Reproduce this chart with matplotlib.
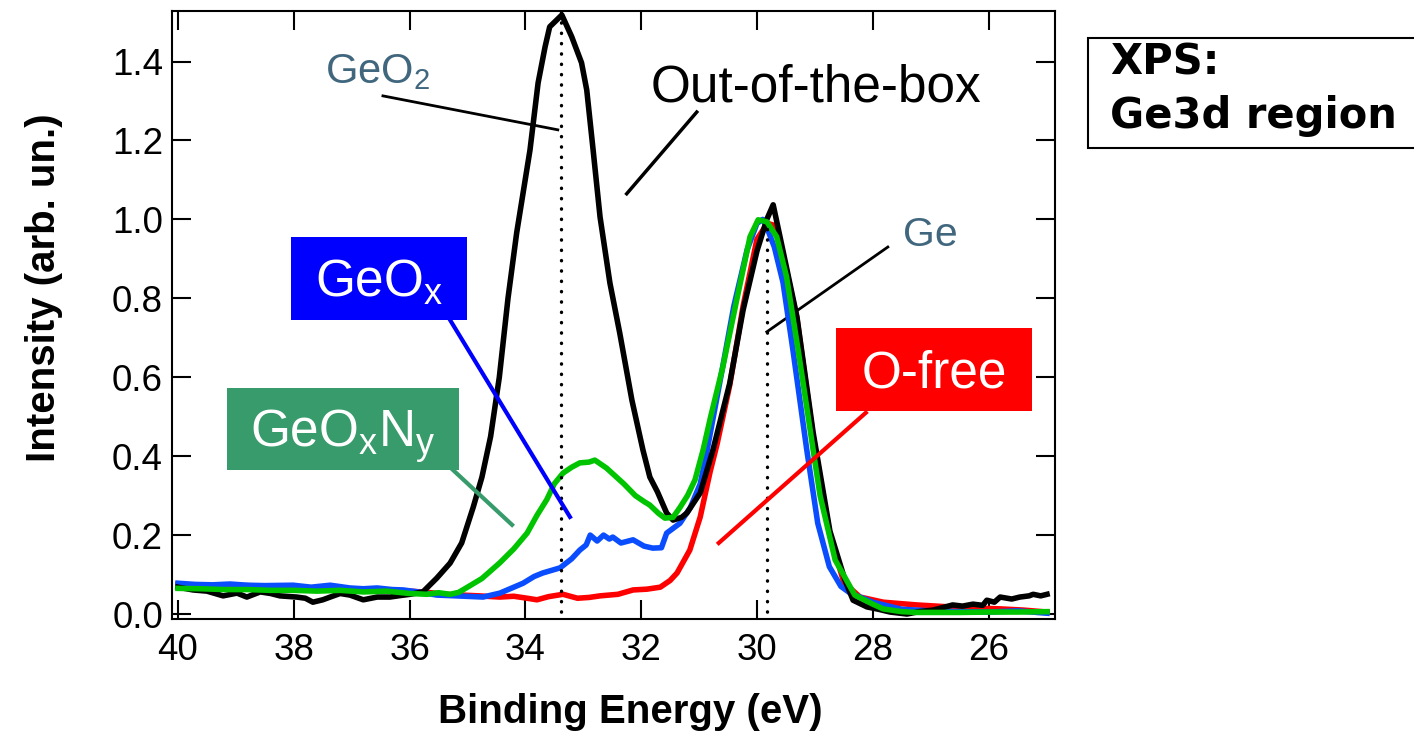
import matplotlib
matplotlib.use('Agg')
import matplotlib.pyplot as plt
from matplotlib.patches import Rectangle

plt.rcParams['font.family'] = ['Liberation Sans', 'DejaVu Sans']
plt.rcParams['mathtext.fontset'] = 'custom'
plt.rcParams['mathtext.rm'] = 'Liberation Sans'

# Ge3d spectra, binding energy (eV) vs normalised intensity
be_black = [40.0, 39.74, 39.5, 39.22, 38.98, 38.81, 38.58, 38.4, 38.24, 37.95, 37.8, 37.67,
            37.5, 37.37, 37.2, 37.03, 36.8, 36.56, 36.34, 36.15, 35.99, 35.77, 35.53, 35.3,
            35.1, 34.9, 34.75, 34.6, 34.45, 34.3, 34.15, 33.92, 33.78, 33.66, 33.58, 33.37,
            33.2, 33.03, 32.94, 32.83, 32.71, 32.54, 32.37, 32.16, 31.97, 31.85, 31.72, 31.56,
            31.45, 31.3, 31.21, 30.98, 30.76, 30.47, 30.24, 30.0, 29.83, 29.72, 29.55, 29.31,
            29.03, 28.74, 28.48, 28.34, 28.1, 27.9, 27.7, 27.41, 27.2, 26.96, 26.8, 26.62,
            26.45, 26.27, 26.1, 26.03, 25.9, 25.8, 25.6, 25.46, 25.3, 25.23, 25.1, 24.99]
int_black = [0.068, 0.061, 0.058, 0.046, 0.053, 0.043, 0.056, 0.052, 0.046, 0.043, 0.040, 0.030,
             0.036, 0.043, 0.052, 0.048, 0.036, 0.043, 0.043, 0.047, 0.050, 0.056, 0.091, 0.129,
             0.180, 0.271, 0.347, 0.45, 0.60, 0.80, 0.966, 1.176, 1.346, 1.437, 1.488, 1.518,
             1.463, 1.397, 1.328, 1.176, 1.006, 0.839, 0.712, 0.542, 0.416, 0.347, 0.31, 0.256,
             0.238, 0.245, 0.256, 0.307, 0.416, 0.585, 0.77, 0.92, 1.0, 1.037, 0.92, 0.753,
             0.46, 0.21, 0.086, 0.035, 0.018, 0.012, 0.005, 0.0, 0.006, 0.01, 0.016, 0.023,
             0.02, 0.025, 0.022, 0.035, 0.03, 0.043, 0.038, 0.043, 0.046, 0.05, 0.046, 0.05]

be_red = [40.0, 39.6, 39.2, 38.8, 38.4, 38.0, 37.6, 37.2, 36.8, 36.4, 36.0, 35.7, 35.4, 35.1,
          34.8, 34.44, 34.2, 33.97, 33.8, 33.6, 33.35, 33.1, 32.9, 32.71, 32.4, 32.14, 31.9,
          31.67, 31.5, 31.38, 31.16, 30.98, 30.81, 30.69, 30.47, 30.24, 30.0, 29.82, 29.7,
          29.55, 29.31, 29.03, 28.74, 28.5, 28.22, 27.82, 27.24, 26.67, 26.2, 25.8, 25.4, 24.99]
int_red = [0.075, 0.072, 0.07, 0.072, 0.068, 0.068, 0.066, 0.064, 0.062, 0.06, 0.058, 0.055,
           0.05, 0.048, 0.046, 0.043, 0.045, 0.04, 0.036, 0.044, 0.05, 0.04, 0.042, 0.046, 0.05,
           0.061, 0.063, 0.068, 0.085, 0.104, 0.162, 0.246, 0.36, 0.43, 0.58, 0.78, 0.95, 0.99,
           0.985, 0.91, 0.75, 0.45, 0.2, 0.08, 0.043, 0.03, 0.023, 0.018, 0.015, 0.013, 0.01, 0.005]

be_blue = [40.0, 39.7, 39.4, 39.1, 38.8, 38.5, 38.01, 37.7, 37.37, 37.03, 36.8, 36.56, 36.3,
           36.11, 35.8, 35.53, 35.2, 34.73, 34.44, 34.2, 34.04, 33.85, 33.7, 33.4, 33.2, 33.06,
           32.95, 32.88, 32.76, 32.65, 32.55, 32.49, 32.35, 32.14, 31.95, 31.8, 31.65, 31.56,
           31.33, 31.15, 30.98, 30.86, 30.6, 30.4, 30.17, 30.0, 29.9, 29.83, 29.7, 29.55, 29.38,
           29.14, 28.95, 28.75, 28.55, 28.39, 28.0, 27.5, 27.0, 26.5, 26.0, 25.5, 24.99]
int_blue = [0.078, 0.075, 0.074, 0.076, 0.073, 0.072, 0.073, 0.068, 0.073, 0.066, 0.064, 0.066,
            0.062, 0.061, 0.055, 0.048, 0.046, 0.043, 0.053, 0.068, 0.078, 0.095, 0.104, 0.117,
            0.14, 0.162, 0.175, 0.2, 0.185, 0.2, 0.19, 0.195, 0.18, 0.188, 0.172, 0.167, 0.168,
            0.205, 0.23, 0.27, 0.33, 0.416, 0.62, 0.78, 0.923, 0.99, 1.0, 0.98, 0.93, 0.84, 0.67,
            0.416, 0.23, 0.12, 0.07, 0.053, 0.03, 0.012, 0.008, 0.006, 0.005, 0.008, 0.002]

be_green = [40.0, 39.6, 39.2, 38.8, 38.4, 38.0, 37.6, 37.2, 36.8, 36.4, 36.0, 35.7, 35.5, 35.3,
            35.15, 35.0, 34.75, 34.44, 34.2, 33.97, 33.8, 33.63, 33.5, 33.35, 33.2, 33.06, 32.9,
            32.8, 32.6, 32.45, 32.3, 32.1, 31.95, 31.85, 31.7, 31.59, 31.45, 31.33, 31.2, 31.07,
            30.93, 30.8, 30.59, 30.35, 30.12, 29.98, 29.83, 29.66, 29.49, 29.29, 29.03, 28.91,
            28.65, 28.31, 28.0, 27.82, 27.5, 27.24, 26.5, 26.0, 25.5, 24.99]
int_green = [0.065, 0.064, 0.062, 0.062, 0.06, 0.06, 0.058, 0.06, 0.056, 0.058, 0.052, 0.05,
             0.054, 0.05, 0.055, 0.068, 0.09, 0.13, 0.165, 0.205, 0.25, 0.29, 0.33, 0.357, 0.372,
             0.383, 0.385, 0.39, 0.37, 0.35, 0.33, 0.30, 0.285, 0.276, 0.255, 0.243, 0.245, 0.27,
             0.3, 0.34, 0.416, 0.5, 0.626, 0.796, 0.956, 0.999, 0.994, 0.956, 0.855, 0.67, 0.416,
             0.3, 0.137, 0.048, 0.025, 0.013, 0.006, 0.004, 0.004, 0.005, 0.005, 0.006]

# reference peak positions (GeO2, Ge) and how high their dotted markers go
peak_be = [33.38, 29.83]
peak_top = [1.53, 0.99]

xticks = [40, 38, 36, 34, 32, 30, 28, 26]
yticks = [0.0, 0.2, 0.4, 0.6, 0.8, 1.0, 1.2, 1.4]

TICKFS = 26.5
LABELFS = 29
LW = 4.0

fig = plt.figure(figsize=(14.14, 7.41), dpi=100)
ax = fig.add_axes([0.1216, 0.1646, 0.6245, 0.8205])

ax.plot(be_red, int_red, color='#ff0000', lw=LW, zorder=3)
ax.plot(be_blue, int_blue, color='#0a4dff', lw=LW, zorder=4)
ax.plot(be_black, int_black, color='black', lw=LW, zorder=5)
ax.plot(be_green, int_green, color='#00c400', lw=LW, zorder=6)

ax.vlines(peak_be, -0.02, peak_top, colors='black', lw=2.4,
          linestyles=[(0, (0.1, 3.0))], capstyle='round', zorder=7)

ax.set_xlim(40.104, 24.853)
ax.set_ylim(-0.0127, 1.528)
ax.set_xticks(xticks)
ax.set_yticks(yticks)
ax.set_yticklabels(['%.1f' % v for v in yticks])
ax.tick_params(direction='in', length=14, width=1.5, top=True, right=True,
               labelsize=TICKFS)
ax.tick_params(axis='x', pad=10)
ax.tick_params(axis='y', pad=6.5)
for sp in ax.spines.values():
    sp.set_linewidth(1.5)

ax.set_xlabel('Binding Energy (eV)', fontsize=LABELFS, fontweight='bold')
ax.set_ylabel('Intensity (arb. un.)', fontsize=LABELFS, fontweight='bold')
ax.xaxis.set_label_coords(0.519, -0.1217)
ax.yaxis.set_label_coords(-0.123, 0.545)

# plain text labels with leader lines
ax.text(37.46, 1.346, r'GeO$_\mathregular{2}$', color='#41677f', fontsize=30,
        ha='left', va='baseline')
ax.plot([36.46, 33.44], [1.313, 1.227], color='black', lw=2)
ax.text(31.83, 1.300, 'Out-of-the-box', color='black', fontsize=37,
        ha='left', va='baseline')
ax.plot([31.04, 32.25], [1.272, 1.065], color='black', lw=2.5)
ax.text(27.48, 0.933, 'Ge', color='#41677f', fontsize=29.5,
        ha='left', va='baseline')
ax.plot([27.74, 29.83], [0.930, 0.715], color='black', lw=2)

# boxed labels
boxes = [
    (r'GeO$_\mathregular{x}$', '#0000ff', (38.05, 35.01, 0.745, 0.956), (36.52, 0.804),
     ([35.30, 33.23], [0.745, 0.246])),
    (r'GeO$_\mathregular{x}$N$_\mathregular{y}$', '#379b6b', (39.15, 35.15, 0.365, 0.573),
     (37.15, 0.423), ([35.25, 34.23], [0.365, 0.226])),
    ('O-free', '#ff0000', (28.64, 25.25, 0.515, 0.725), (26.94, 0.575),
     ([28.12, 30.66], [0.510, 0.180])),
]
for label, col, (x0, x1, y0, y1), (tx, ty), (lx, ly) in boxes:
    ax.add_patch(Rectangle((x1, y0), x0 - x1, y1 - y0, facecolor=col,
                           edgecolor='none', zorder=8))
    ax.text(tx, ty, label, color='white', fontsize=37, ha='center',
            va='baseline', zorder=9)
    ax.plot(lx, ly, color=col, lw=3, zorder=8)

# XPS box at top right
fig.patches.append(Rectangle((0.7695, 0.8003), 0.26, 0.1484, transform=fig.transFigure,
                             facecolor='white', edgecolor='black', lw=1.5))
fig.text(0.785, 0.8988, 'XPS:', fontsize=30, fontweight='bold',
         family='DejaVu Sans', ha='left', va='baseline')
fig.text(0.785, 0.8273, 'Ge3d region', fontsize=30, fontweight='bold',
         family='DejaVu Sans', ha='left', va='baseline')

fig.savefig('out.png', dpi=100)
